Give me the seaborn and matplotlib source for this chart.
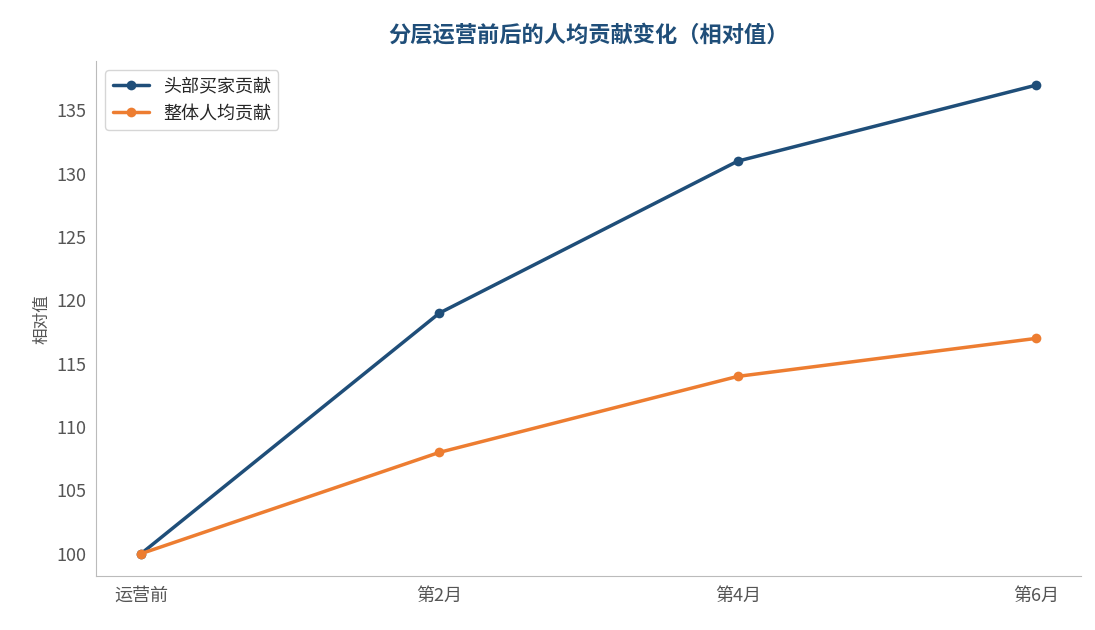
import matplotlib
matplotlib.use("Agg")
import matplotlib.pyplot as plt
import pandas as pd
import seaborn as sns

periods = ["运营前", "第2月", "第4月", "第6月"]
head_buyers = [100, 119, 131, 137]
overall_avg = [100, 108, 114, 117]

sns.set_style("white")
plt.rcParams['font.family'] = ['Noto Sans CJK SC', 'DejaVu Sans']

df = pd.DataFrame({
    "period": periods * 2,
    "value": head_buyers + overall_avg,
    "series": ["头部买家贡献"] * 4 + ["整体人均贡献"] * 4,
})

fig = plt.figure(figsize=(10.95, 6.3), dpi=100)
ax = fig.add_axes([0.088, 0.085, 0.899, 0.818])
sns.lineplot(data=df, x="period", y="value", hue="series", sort=False,
             palette=["#1f4e79", "#ed7d31"], marker="o", markersize=7,
             markeredgewidth=0, linewidth=2.5, ax=ax)

ax.set_title("分层运营前后的人均贡献变化（相对值）", fontsize=16, fontweight="bold",
             color="#1f4e79", pad=14)
ax.set_xlabel("")
ax.set_ylabel("相对值", fontsize=12, color="#555555")
ax.set_yticks(range(100, 136, 5))
ax.tick_params(axis="both", labelsize=13, colors="#555555", length=4)
ax.set_ylim(98.2, 138.9)
ax.set_xlim(-0.15, 3.15)
for s in ["top", "right"]:
    ax.spines[s].set_visible(False)
for s in ["left", "bottom"]:
    ax.spines[s].set_color("#bbbbbb")
ax.legend(title=None, loc="upper left", fontsize=13, frameon=True)

fig.savefig("out.png", dpi=100)
